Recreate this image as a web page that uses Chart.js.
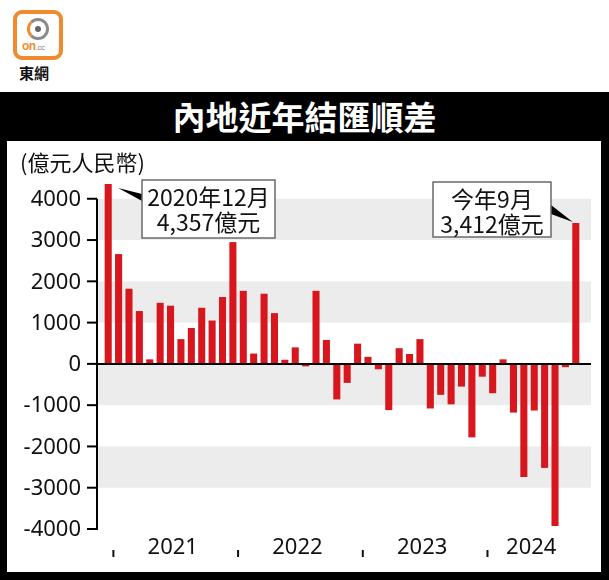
<!DOCTYPE html>
<html>
<head>
<meta charset="utf-8">
<script src="https://cdn.jsdelivr.net/npm/chart.js@4"></script>
<style>
  body { margin: 0; width: 609px; height: 580px; background: #fff; position: relative; overflow: hidden; font-family: "Noto Sans CJK TC", "Noto Sans", sans-serif; }
  #logo { position: absolute; left: 13px; top: 10px; width: 42px; height: 42px; border: 4px solid #ef8b2c; border-radius: 9px; background: #fff; }
  #logo .ring { position: absolute; left: 10px; top: 4px; width: 16px; height: 16px; border: 3px solid #8a8a8a; border-left-color: #ef8b2c; border-radius: 50%; }
  #logo .dot { position: absolute; left: 18px; top: 12px; width: 6px; height: 6px; background: #666; border-radius: 50%; }
  #logo .txt { position: absolute; left: 5px; top: 25px; font: bold 12px "Liberation Sans", sans-serif; color: #ef8b2c; letter-spacing: -0.5px; }
  #logo .txt span { color: #888; font-size: 8px; font-weight: normal; }
  #brand { position: absolute; left: 19px; top: 62px; font: bold 15px "Noto Sans CJK TC", sans-serif; color: #111; }
  #frame { position: absolute; left: 0; top: 92px; width: 609px; height: 488px; background: #000; }
  #title { position: absolute; left: 0; top: 92px; width: 609px; height: 49px; line-height: 49px; text-align: center; color: #fff; font: bold 33px "Noto Sans CJK TC", sans-serif; }
  #panel { position: absolute; left: 7px; top: 141px; width: 594px; height: 431px; background: #fff; }
</style>
</head>
<body>
<div id="logo"><div class="ring"></div><div class="dot"></div><div class="txt">on<span>.cc</span></div></div>
<div id="brand">東網</div>
<div id="frame"></div>
<div id="title">內地近年結匯順差</div>
<div id="panel"><canvas id="c" width="594" height="431"></canvas></div>
<script>
// 結匯順差, 2020-12 to 2024-09, 億元人民幣
const surplus = [
  4357,
  2660, 1820, 1280, 110, 1480, 1410, 600, 870, 1360, 1050, 1620, 2950,
  1770, 250, 1700, 1230, 100, 400, -60, 1770, 580, -860, -460, 490,
  170, -130, -1120, 380, 240, 600, -1080, -750, -980, -550, -1780, -310,
  -710, 110, -1180, -2740, -1130, -2520, -3930, -80, 3412
];
const months = [];
for (let i = 0; i < surplus.length; i++) {
  const m = (11 + i) % 12 + 1;
  const y = 2020 + Math.floor((11 + i) / 12);
  months.push(y + '-' + String(m).padStart(2, '0'));
}
const years = ['2021', '2022', '2023', '2024'];
const yTicks = [4000, 3000, 2000, 1000, 0, -1000, -2000, -3000, -4000];
const yUnit = '(億元人民幣)';
const callouts = [
  { index: 0, lines: ['2020年12月', '4,357億元'] },
  { index: 45, lines: ['今年9月', '3,412億元'] },
];

const NUM_FONT = '22px "Noto Sans", sans-serif';
const CJK_FONT = '23px "Noto Sans CJK TC", sans-serif';

const decor = {
  id: 'decor',
  beforeDatasetsDraw(chart) {
    const { ctx, chartArea, scales: { y } } = chart;
    const axisX = chartArea.left - 6;
    const right = chartArea.right + 10;
    ctx.save();
    // grey bands
    ctx.fillStyle = '#ececec';
    for (let i = 0; i + 1 < yTicks.length; i += 2) {
      const t = y.getPixelForValue(yTicks[i]);
      const b = y.getPixelForValue(yTicks[i + 1]);
      ctx.fillRect(axisX, t, right - axisX, b - t);
    }
    // axis, ticks, labels
    ctx.strokeStyle = '#000';
    ctx.lineWidth = 2;
    ctx.beginPath();
    ctx.moveTo(axisX, y.getPixelForValue(yTicks[0]));
    ctx.lineTo(axisX, y.getPixelForValue(yTicks[yTicks.length - 1]) + 1);
    ctx.stroke();
    ctx.fillStyle = '#111';
    ctx.font = NUM_FONT;
    ctx.textAlign = 'right';
    ctx.textBaseline = 'middle';
    yTicks.forEach(v => {
      const py = y.getPixelForValue(v);
      ctx.beginPath();
      ctx.moveTo(axisX - 10, py);
      ctx.lineTo(axisX, py);
      ctx.stroke();
      ctx.fillText(String(v), axisX - 16, py + 1);
    });
    // unit label
    ctx.textAlign = 'left';
    ctx.font = '22px "Noto Sans CJK TC", sans-serif';
    ctx.fillText(yUnit, 13, 22);
    ctx.restore();
  },
  afterDatasetsDraw(chart) {
    const { ctx, chartArea, scales: { x, y } } = chart;
    const axisX = chartArea.left - 6;
    const right = chartArea.right + 10;
    ctx.save();
    // zero line
    ctx.strokeStyle = '#000';
    ctx.lineWidth = 2;
    const zy = y.getPixelForValue(0);
    ctx.beginPath();
    ctx.moveTo(axisX, zy);
    ctx.lineTo(right, zy);
    ctx.stroke();
    // year labels and separators
    ctx.fillStyle = '#111';
    ctx.font = NUM_FONT;
    ctx.textAlign = 'center';
    ctx.textBaseline = 'middle';
    years.forEach(yr => {
      const idx = months.map((m, i) => m.startsWith(yr) ? i : -1).filter(i => i >= 0);
      const first = idx[0], last = idx[idx.length - 1];
      const sep = (x.getPixelForValue(first - 1) + x.getPixelForValue(first)) / 2;
      ctx.fillRect(sep - 1, 409, 2, 7);
      const cx = (x.getPixelForValue(first) + x.getPixelForValue(last)) / 2;
      ctx.fillText(yr, cx - 3, 407);
    });
    // callouts
    const bars = chart.getDatasetMeta(0).data;
    const boxes = [
      { x: 135, y: 39, w: 133, h: 58, tip: b => [b.x + 10, b.y + 4], base: [[135, 53], [135, 60]] },
      { x: 426, y: 41, w: 118, h: 55, tip: b => [b.x - 3, b.y - 1], base: [[544, 64], [544, 73]] },
    ];
    callouts.forEach((c, k) => {
      const bx = boxes[k];
      const [tx, ty] = bx.tip(bars[c.index]);
      ctx.fillStyle = '#000';
      ctx.beginPath();
      ctx.moveTo(tx, ty);
      ctx.lineTo(bx.base[0][0], bx.base[0][1]);
      ctx.lineTo(bx.base[1][0], bx.base[1][1]);
      ctx.closePath();
      ctx.fill();
      ctx.fillStyle = '#fff';
      ctx.fillRect(bx.x, bx.y, bx.w, bx.h);
      ctx.strokeStyle = '#6a6a6a';
      ctx.lineWidth = 1.5;
      ctx.strokeRect(bx.x, bx.y, bx.w, bx.h);
      ctx.fillStyle = '#111';
      ctx.font = CJK_FONT;
      ctx.textAlign = 'center';
      c.lines.forEach((ln, j) => {
        ctx.fillText(ln, bx.x + bx.w / 2, bx.y + 17 + j * 25);
      });
    });
    ctx.restore();
  }
};

new Chart(document.getElementById('c'), {
  type: 'bar',
  data: {
    labels: months,
    datasets: [{
      data: surplus,
      backgroundColor: '#d7161e',
      borderWidth: 0,
      barPercentage: 0.68,
      categoryPercentage: 1,
    }],
  },
  options: {
    responsive: false,
    animation: false,
    layout: { padding: { left: 96, right: 20, top: 33, bottom: 43 } },
    scales: {
      x: { display: false },
      y: { display: false, min: -4000, max: 4600 },
    },
    plugins: {
      legend: { display: false },
      tooltip: { enabled: false },
    },
  },
  plugins: [decor],
});
</script>
</body>
</html>
